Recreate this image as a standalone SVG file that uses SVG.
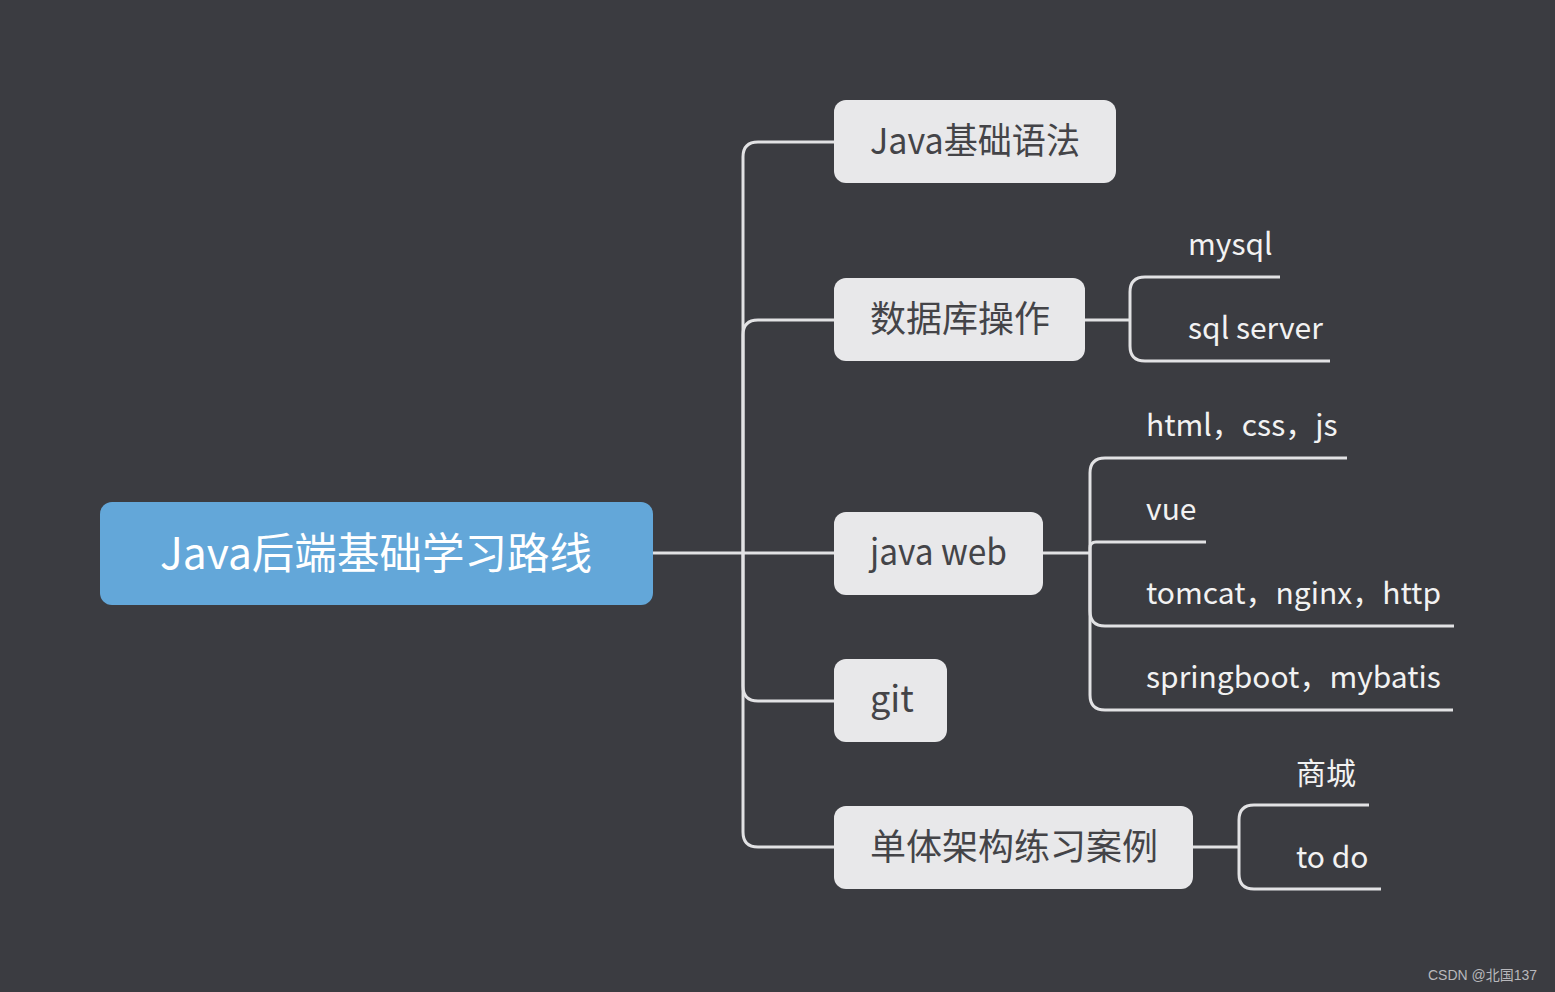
<svg xmlns="http://www.w3.org/2000/svg" width="1555" height="992" viewBox="0 0 1555 992">
<style>
.bg{fill:#3b3c41}
.node{fill:#e8e8ea}
.root{fill:#63a7d9}
.t{font-family:"Noto Sans CJK SC","Noto Sans",sans-serif;font-size:36px;fill:#444448}
.rt{font-family:"Noto Sans CJK SC","Noto Sans",sans-serif;font-size:43px;fill:#ffffff}
.s{font-family:"Noto Sans CJK SC","Noto Sans",sans-serif;font-size:30px;fill:#f2f2f2}
.c{fill:none;stroke:#e2e2e4;stroke-width:3}
.wm{font-family:"Liberation Sans","Noto Sans CJK SC",sans-serif;font-size:14px;fill:#b8b8bc}
</style>
<rect class="bg" x="0" y="0" width="1555" height="992"/>
<g id="connectors">
<path class="c" d="M653 553 H743"/>
<path class="c" d="M743 553 V157 Q743 142 758 142 H834"/>
<path class="c" d="M743 553 V335 Q743 320 758 320 H834"/>
<path class="c" d="M743 553 H834"/>
<path class="c" d="M743 553 V686 Q743 701 758 701 H834"/>
<path class="c" d="M743 553 V832 Q743 847 758 847 H834"/>
<path class="c" d="M1085 320 H1130"/>
<path class="c" d="M1130 320 V292 Q1130 277 1145 277 H1280"/>
<path class="c" d="M1130 320 V346 Q1130 361 1145 361 H1330"/>
<path class="c" d="M1043 553 H1090"/>
<path class="c" d="M1090 553 V473 Q1090 458 1105 458 H1347"/>
<path class="c" d="M1090 553 V548 Q1090 542 1096 542 H1206"/>
<path class="c" d="M1090 553 V611 Q1090 626 1105 626 H1454"/>
<path class="c" d="M1090 553 V695 Q1090 710 1105 710 H1453"/>
<path class="c" d="M1193 847 H1239"/>
<path class="c" d="M1239 847 V820 Q1239 805 1254 805 H1369"/>
<path class="c" d="M1239 847 V874 Q1239 889 1254 889 H1381"/>
</g>
<g id="root">
<rect class="root" x="100" y="502" width="553" height="103" rx="12"/>
<text class="rt" x="160" y="569" textLength="432" lengthAdjust="spacingAndGlyphs">Java后端基础学习路线</text>
</g>
<g id="n1">
<rect class="node" x="834" y="100" width="282" height="83" rx="12"/>
<text class="t" x="870" y="154" textLength="210" lengthAdjust="spacingAndGlyphs">Java基础语法</text>
</g>
<g id="n2">
<rect class="node" x="834" y="278" width="251" height="83" rx="12"/>
<text class="t" x="870" y="332">数据库操作</text>
</g>
<g id="n3">
<rect class="node" x="834" y="512" width="209" height="83" rx="12"/>
<text class="t" x="870" y="565" textLength="137" lengthAdjust="spacingAndGlyphs">java web</text>
</g>
<g id="n4">
<rect class="node" x="834" y="659" width="113" height="83" rx="12"/>
<text class="t" x="870" y="712">git</text>
</g>
<g id="n5">
<rect class="node" x="834" y="806" width="359" height="83" rx="12"/>
<text class="t" x="870" y="860">单体架构练习案例</text>
</g>
<g id="s1"><text class="s" x="1188" y="255">mysql</text></g>
<g id="s2"><text class="s" x="1188" y="339">sql server</text></g>
<g id="s3"><text class="s" x="1146" y="436">html，css，js</text></g>
<g id="s4"><text class="s" x="1146" y="520">vue</text></g>
<g id="s5"><text class="s" x="1146" y="604">tomcat，nginx，http</text></g>
<g id="s6"><text class="s" x="1146" y="688">springboot，mybatis</text></g>
<g id="s7"><text class="s" x="1296" y="784">商城</text></g>
<g id="s8"><text class="s" x="1296" y="868">to do</text></g>
<text class="wm" x="1428" y="980">CSDN @北国137</text>
</svg>
